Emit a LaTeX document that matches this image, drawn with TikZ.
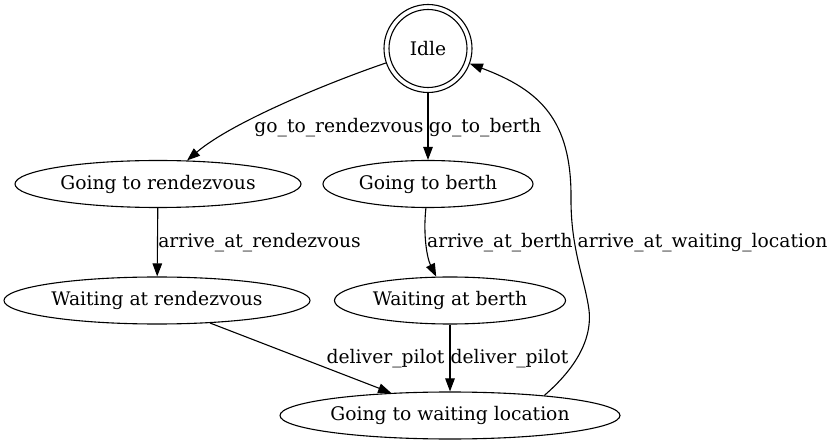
\documentclass[tikz,border=0pt]{standalone}
\usepackage{fontspec}
\setmainfont{DejaVu Serif}
\usetikzlibrary{shapes.geometric,arrows.meta}
\begin{document}
\begin{tikzpicture}[x=1pt,y=-1pt,line width=1.1pt,
  font=\fontsize{18.7}{22}\selectfont,
  state/.style={ellipse,draw,inner sep=0pt,inner xsep=-40pt,minimum height=47},
  lbl/.style={anchor=base,inner sep=0pt},
  >={Triangle[length=13pt,width=9.5pt]}]
\useasboundingbox (0,0) rectangle (833,446);

% states
\node[circle,draw,minimum size=88,inner sep=0pt] (idle) at (428,48.5) {Idle};
\draw (idle.center) circle[radius=39];
\node[state,minimum width=286] (gtr) at (158,184) {Going to rendezvous};
\node[state,minimum width=210] (gtb) at (428,184) {Going to berth};
\node[state,minimum width=306] (war) at (157,300.5) {Waiting at rendezvous};
\node[state,minimum width=231] (wab) at (450,300.5) {Waiting at berth};
\node[state,minimum width=340] (gwl) at (450,415.5) {Going to waiting location};

% transitions
\draw[->] (idle.199) .. controls (330,82) and (232,122) .. (gtr.39);
\draw[->] (idle) -- (idle |- gtb.north);
\draw[->] (gtr) -- (war);
\draw[->] (gtb.265) .. controls (423,235) and (427,258) .. (wab.120);
\draw[->] (war.-23.5) -- (gwl.159);
\draw[->] (wab) -- (gwl);
\draw[->] (gwl.12) .. controls (568,375) and (593,345) .. (589,310)
  .. controls (585,280) and (571,250) .. (571,200)
  .. controls (572,120) and (540,90) .. (idle.-20);

\node[lbl] (l1) at (339,133) {go\_to\_rendezvous};
\node[lbl] (l2) at (485,133) {go\_to\_berth};
\node[lbl] (l3) at (259.5,248) {arrive\_at\_rendezvous};
\node[lbl] (l4) at (500,248) {arrive\_at\_berth};
\node[lbl] (l5) at (702.5,248) {arrive\_at\_waiting\_location};
\node[lbl] (l6) at (385.5,363) {deliver\_pilot};
\node[lbl] (l7) at (509.5,363) {deliver\_pilot};
\end{tikzpicture}
\end{document}
